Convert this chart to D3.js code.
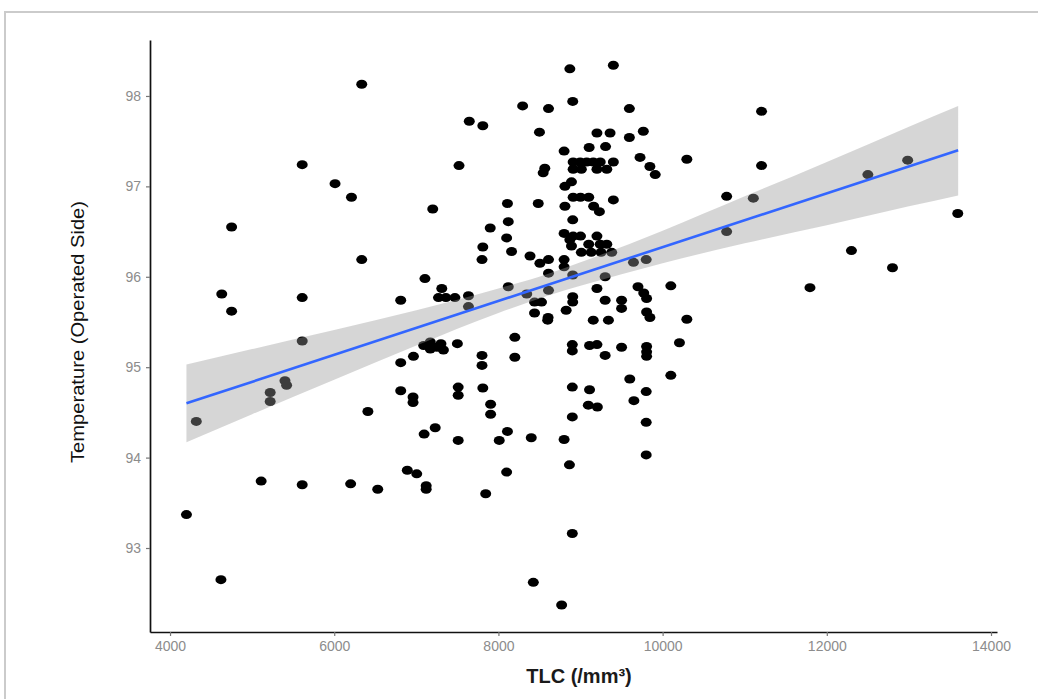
<!DOCTYPE html>
<html>
<head>
<meta charset="utf-8">
<script src="https://cdn.jsdelivr.net/npm/d3@7"></script>
<style>
body { margin: 0; background: #fff; }
svg text { font-family: "Liberation Sans", Arial, sans-serif; }
</style>
</head>
<body>
<svg id="chart" width="1038" height="699"></svg>
<script>

// TLC (/mm3) of each patient
var tlc = [4200, 4320, 4620, 4630, 4750, 4750, 5110, 5220, 5220, 5400, 5420, 5610, 5610, 5610, 5610,
	6010, 6200, 6210, 6335, 6335, 6410, 6530, 6810, 6810, 6810, 6890, 6965, 6960, 6960, 7005,
	7095, 7105, 7120, 7120, 7200, 7230, 7310, 7270, 7360, 7470, 7635, 7635, 7090, 7170, 7170,
	7250, 7330, 7300, 7500, 7510, 7510, 7510, 7520, 7645, 7810, 7800, 7800, 7810, 7810, 7800,
	7845, 7900, 7905, 7905, 8010, 8100, 8120, 8100, 8110, 8110, 8120, 8160, 8200, 8200, 8295,
	8345, 8385, 8400, 8425, 8440, 8525, 8440, 8485, 8500, 8505, 8545, 8565, 8605, 8610, 8610,
	8610, 8610, 8600, 8770, 8800, 8800, 8800, 8800, 8800, 8810, 8810, 8825, 8870, 8870, 8890,
	8890, 8865, 8900, 8900, 8900, 8900, 8900, 8905, 8905, 8905, 8905, 8905, 8910, 8910, 8910,
	8910, 8995, 9000, 9000, 9010, 9010, 9075, 9095, 9100, 9100, 9105, 9110, 9110, 9130, 9155,
	9155, 9160, 9200, 9200, 9200, 9200, 9200, 9205, 9230, 9240, 9240, 9250, 9300, 9300, 9300,
	9305, 9320, 9320, 9340, 9360, 9380, 9400, 9400, 9400, 9500, 9500, 9500, 9595, 9595, 9600,
	9650, 9645, 9700, 9725, 9765, 9770, 9800, 9805, 9805, 9805, 9805, 9805, 9800, 9800, 9800,
	9845, 9845, 9910, 10100, 10100, 10205, 10295, 10295, 10780, 10780, 11105, 11205, 11205, 11795, 12300,
	12500, 12800, 12985, 13595];

// Temperature on the operated side
var temp = [93.37, 94.40, 92.65, 95.81, 96.55, 95.62, 93.74, 94.72, 94.62, 94.85, 94.80, 97.24, 95.77, 95.29, 93.70,
	97.03, 93.71, 96.88, 98.13, 96.19, 94.51, 93.65, 95.74, 95.05, 94.74, 93.86, 95.12, 94.67, 94.61, 93.82,
	94.26, 95.98, 93.69, 93.65, 96.75, 94.33, 95.87, 95.77, 95.77, 95.77, 95.79, 95.67, 95.24, 95.28, 95.20,
	95.22, 95.19, 95.26, 95.26, 94.78, 94.69, 94.19, 97.23, 97.72, 97.67, 95.13, 95.02, 94.77, 96.33, 96.19,
	93.60, 96.54, 94.59, 94.48, 94.19, 96.43, 96.61, 93.84, 96.81, 94.29, 95.89, 96.28, 95.33, 95.11, 97.89,
	95.81, 96.23, 94.22, 92.62, 95.72, 95.72, 95.60, 96.81, 97.60, 96.15, 97.15, 97.20, 95.55, 97.86, 96.19,
	96.04, 95.85, 95.52, 92.37, 97.39, 96.48, 96.19, 96.11, 94.20, 97.00, 96.78, 95.63, 98.30, 96.41, 96.34,
	97.05, 93.92, 95.25, 95.18, 94.78, 94.45, 93.16, 97.94, 95.78, 95.72, 96.63, 96.02, 97.27, 97.19, 96.88,
	96.45, 97.27, 96.88, 96.45, 97.19, 96.27, 97.27, 94.58, 96.88, 96.36, 97.43, 95.24, 94.75, 96.27, 97.27,
	95.52, 96.78, 97.59, 97.19, 96.45, 95.87, 95.25, 94.56, 96.72, 97.27, 96.36, 96.27, 96.00, 95.74, 95.13,
	97.44, 97.19, 96.36, 95.52, 97.59, 96.27, 98.34, 97.27, 96.85, 95.74, 95.65, 95.22, 97.86, 97.54, 94.87,
	94.63, 96.16, 95.89, 97.32, 97.61, 95.82, 96.19, 95.76, 95.61, 95.23, 95.17, 95.12, 94.73, 94.39, 94.03,
	97.22, 95.55, 97.13, 95.90, 94.91, 95.27, 97.30, 95.53, 96.89, 96.50, 96.87, 97.83, 97.23, 95.88, 96.29,
	97.13, 96.10, 97.29, 96.70];

// fitted line and 95% band
var fitTlc = [4200, 13600];
var fitTemp = [94.60, 97.40];
var bandTlc = [4200, 5000, 6000, 7000, 8000, 8600, 9000, 10000, 11000, 12000, 13000, 13600];
var bandLow = [94.17, 94.48, 94.86, 95.24, 95.60, 95.79, 95.90, 96.15, 96.37, 96.57, 96.78, 96.90];
var bandHigh = [95.03, 95.20, 95.41, 95.63, 95.87, 96.03, 96.16, 96.51, 96.89, 97.27, 97.66, 97.89];

var xTicks = [4000, 6000, 8000, 10000, 12000, 14000];
var yTicks = [93, 94, 95, 96, 97, 98];

var svg = d3.select("#chart");

// plot area
var plotLeft = 150, plotRight = 997, plotTop = 40, plotBottom = 632;

var x = d3.scaleLinear().domain([3756, 14073]).range([plotLeft, plotRight]);
var y = d3.scaleLinear().domain([92.071, 98.619]).range([plotBottom, plotTop]);

// screenshot frame
svg.append("rect")
	.attr("x", 5).attr("y", 12).attr("width", 1045).attr("height", 700)
	.style("fill", "none").style("stroke", "#cbcbcb").style("stroke-width", 2);

// points
svg.append("g").selectAll("ellipse")
	.data(d3.range(tlc.length))
	.join("ellipse")
	.attr("cx", function(i) { return x(tlc[i]); })
	.attr("cy", function(i) { return y(temp[i]); })
	.attr("rx", 5.5).attr("ry", 4.5)
	.style("fill", "#000");

// confidence band over the points (like geom_smooth)
var band = d3.area()
	.x(function(i) { return x(bandTlc[i]); })
	.y0(function(i) { return y(bandLow[i]); })
	.y1(function(i) { return y(bandHigh[i]); })
	.curve(d3.curveMonotoneX);
svg.append("path")
	.attr("d", band(d3.range(bandTlc.length)))
	.style("fill", "#999999").style("fill-opacity", 0.4);

var fit = d3.line()
	.x(function(i) { return x(fitTlc[i]); })
	.y(function(i) { return y(fitTemp[i]); });
svg.append("path")
	.attr("d", fit(d3.range(fitTlc.length)))
	.style("fill", "none").style("stroke", "#3366FF").style("stroke-width", 2.6);

// axes
var xAxis = svg.append("g")
	.attr("transform", "translate(0," + plotBottom + ")")
	.call(d3.axisBottom(x).tickValues(xTicks).tickFormat(d3.format("d")).tickSize(4).tickSizeOuter(0).tickPadding(5));
var yAxis = svg.append("g")
	.attr("transform", "translate(" + plotLeft + ",0)")
	.call(d3.axisLeft(y).tickValues(yTicks).tickFormat(d3.format("d")).tickSize(4).tickSizeOuter(0).tickPadding(5));

[xAxis, yAxis].forEach(function(g) {
	g.select(".domain").style("stroke", "#111").style("stroke-width", 1.7);
	g.selectAll(".tick line").style("stroke", "#777").style("stroke-width", 1.2);
	g.selectAll(".tick text")
		.style("fill", "#8c8c8c")
		.style("font-size", "14px")
		.style("font-family", "\"Liberation Sans\", Arial, sans-serif");
});

svg.append("text")
	.attr("x", 579).attr("y", 683)
	.attr("text-anchor", "middle")
	.style("font-size", "20px").style("font-weight", "bold").style("fill", "#1a1a1a")
	.text("TLC (/mm³)");

svg.append("text")
	.attr("transform", "translate(84,332) rotate(-90)")
	.attr("text-anchor", "middle")
	.attr("textLength", 262).attr("lengthAdjust", "spacingAndGlyphs")
	.style("font-size", "19px").style("fill", "#111")
	.style("font-family", "\"Liberation Sans Narrow\", \"Liberation Sans\", Arial, sans-serif")
	.text("Temperature (Operated Side)");

</script>
</body>
</html>
